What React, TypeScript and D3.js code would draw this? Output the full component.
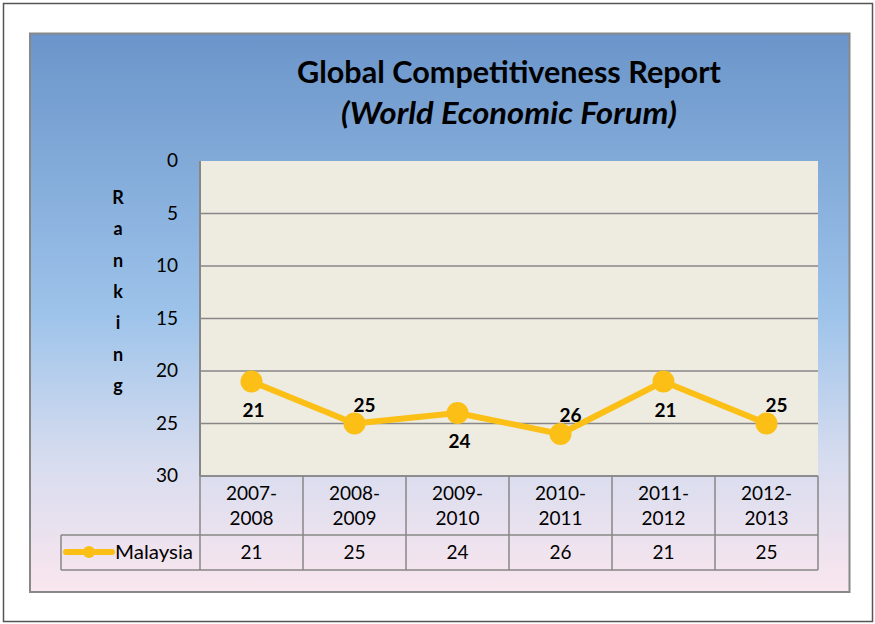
import React from "react";
import * as d3 from "d3";

const categories = ["2007-2008", "2008-2009", "2009-2010", "2010-2011", "2011-2012", "2012-2013"];
const malaysia = [21, 25, 24, 26, 21, 25];
const yTicks = [0, 5, 10, 15, 20, 25, 30];
const labelPlacement = ["below", "above", "below", "above", "below", "above"];
const seriesName = "Malaysia";
const titleLine1 = "Global Competitiveness Report";
const titleLine2 = "(World Economic Forum)";
const yTitle = "Ranking";

const W = 875;
const H = 624;
const plot = { left: 200, right: 818, top: 161, bottom: 476 };
const tableHeaderBottom = 535;
const tableBottom = 570;
const legendLeft = 61;
const font = "Lato, 'Open Sans', sans-serif";
const yellow = "#fbbf16";
const grid = "#878787";

export default function App() {
  const x = d3.scaleBand<string>().domain(categories).range([plot.left, plot.right]).padding(0);
  const y = d3.scaleLinear().domain([0, 30]).range([plot.top, plot.bottom]);
  const cx = (c: string) => (x(c) as number) + x.bandwidth() / 2;
  const line = d3
    .line<number>()
    .x((_, i) => cx(categories[i]))
    .y((d) => y(d));

  return (
    <svg width={W} height={H} style={{ position: "absolute", left: 0, top: 0 }}>
      <defs>
        <linearGradient id="bg" x1="0" y1="0" x2="0" y2="1">
          <stop offset="0" stopColor="#6b95ca" />
          <stop offset="0.5" stopColor="#9dc3ea" />
          <stop offset="0.76" stopColor="#d6dcef" />
          <stop offset="1" stopColor="#fae6ee" />
        </linearGradient>
      </defs>
      <rect x={0} y={0} width={W} height={H} fill="#ffffff" />
      <rect x={3.5} y={3.5} width={869} height={618} fill="#ffffff" stroke="#555" strokeWidth={1.5} />
      <rect x={30} y={33.5} width={819.5} height={558.5} fill="url(#bg)" stroke="#888" strokeWidth={2} />

      <text x={509} y={83} textAnchor="middle" fontFamily={font} fontWeight="bold" fontSize={30} fill="#000"
        textLength={424} lengthAdjust="spacingAndGlyphs">
        {titleLine1}
      </text>
      <text x={509} y={124} textAnchor="middle" fontFamily={font} fontWeight="bold" fontStyle="italic" fontSize={30} fill="#000"
        textLength={336} lengthAdjust="spacingAndGlyphs">
        {titleLine2}
      </text>

      {/* plot area */}
      <rect x={plot.left} y={plot.top} width={plot.right - plot.left} height={plot.bottom - plot.top} fill="#eeebe1" />
      {yTicks.slice(1).map((t) => (
        <line key={t} x1={plot.left} x2={plot.right} y1={y(t)} y2={y(t)} stroke={grid} strokeWidth={1.5} />
      ))}
      <line x1={plot.left} x2={plot.left} y1={plot.top} y2={plot.bottom} stroke={grid} strokeWidth={2} />
      {yTicks.map((t) => (
        <text key={t} x={178} y={y(t) + 6} textAnchor="end" fontFamily={font} fontSize={19} fill="#000">
          {t}
        </text>
      ))}
      {yTitle.split("").map((ch, i) => (
        <text key={i} x={118} y={204 + i * 31.3} textAnchor="middle" fontFamily={font} fontWeight="bold" fontSize={18} fill="#000">
          {ch}
        </text>
      ))}

      {/* series */}
      <path d={line(malaysia) || ""} fill="none" stroke={yellow} strokeWidth={6} strokeLinejoin="round" />
      {malaysia.map((v, i) => (
        <circle key={i} cx={cx(categories[i])} cy={y(v)} r={11} fill={yellow} />
      ))}
      {malaysia.map((v, i) => {
        const above = labelPlacement[i] === "above";
        return (
          <text
            key={i}
            x={cx(categories[i]) + (above ? 10 : 2)}
            y={above ? y(v) - 12 : y(v) + 35}
            textAnchor="middle"
            fontFamily={font}
            fontWeight="bold"
            fontSize={19}
            fill="#000"
          >
            {v}
          </text>
        );
      })}

      {/* data table */}
      <g stroke={grid} strokeWidth={1.5} fill="none">
        <line x1={plot.left} x2={plot.right} y1={plot.bottom} y2={plot.bottom} />
        <line x1={legendLeft} x2={plot.right} y1={tableHeaderBottom} y2={tableHeaderBottom} />
        <line x1={legendLeft} x2={plot.right} y1={tableBottom} y2={tableBottom} />
        <line x1={legendLeft} x2={legendLeft} y1={tableHeaderBottom} y2={tableBottom} />
        {categories.map((c) => (
          <line key={c} x1={x(c) as number} x2={x(c) as number} y1={plot.bottom} y2={tableBottom} />
        ))}
        <line x1={plot.right} x2={plot.right} y1={plot.bottom} y2={tableBottom} />
      </g>
      {categories.map((c) => {
        const [a, b] = c.split("-");
        return (
          <g key={c}>
            <text x={cx(c)} y={500} textAnchor="middle" fontFamily={font} fontSize={19} fill="#000">
              {a + "-"}
            </text>
            <text x={cx(c)} y={525} textAnchor="middle" fontFamily={font} fontSize={19} fill="#000">
              {b}
            </text>
          </g>
        );
      })}
      {malaysia.map((v, i) => (
        <text key={i} x={cx(categories[i])} y={559} textAnchor="middle" fontFamily={font} fontSize={19} fill="#000">
          {v}
        </text>
      ))}
      <line x1={66} x2={112} y1={552} y2={552} stroke={yellow} strokeWidth={6} strokeLinecap="round" />
      <circle cx={89} cy={552} r={6} fill={yellow} />
      <text x={115} y={559} fontFamily={font} fontSize={19} fill="#000" textLength={78} lengthAdjust="spacingAndGlyphs">
        {seriesName}
      </text>
    </svg>
  );
}
